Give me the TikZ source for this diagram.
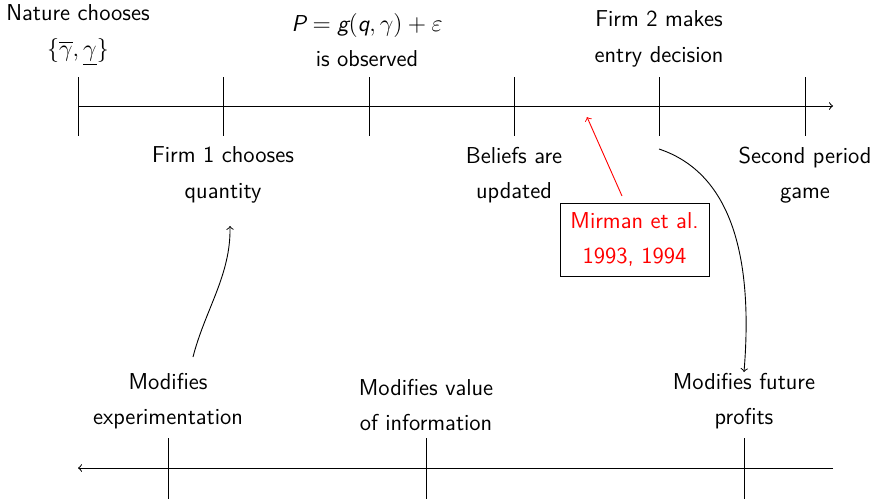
\documentclass[tikz,border=0pt]{standalone}
\usepackage{amsmath}
\newcommand\sfit[1]{\text{\sffamily\itshape #1}}
\begin{document}
\begin{tikzpicture}[x=0.5pt,y=-0.5pt,
  lbl/.style={font=\sffamily\fontsize{11.5}{17.8}\selectfont, align=center, inner sep=0pt},
  axis/.style={line width=0.5pt},
  tick/.style={line width=0.45pt},
  conn/.style={line width=0.45pt, ->},
  refbox/.style={draw, line width=0.5pt, text=red, font=\sffamily\fontsize{11.5}{17.8}\selectfont, align=center, minimum width=74.5pt, minimum height=36.5pt, inner sep=0pt}]
\useasboundingbox (0,0) rectangle (873,499);

% top axis
\coordinate (ta0) at (78,106);
\coordinate (ta1) at (833,106);
\draw[axis,->] (ta0) -- (ta1);
\foreach \n/\x in {t1/78,t2/223,t3/369,t4/514,t5/659,t6/805}{
  \coordinate (\n a) at (\x,77);
  \coordinate (\n b) at (\x,136);
  \draw[tick] (\n a) -- (\n b);
}

% top labels
\node[lbl] (nat) at (78,35) {Nature chooses\\$\{\overline{\gamma},\underline{\gamma}\}$};
\node[lbl] (obs) at (367,40) {$\sfit{P}=\sfit{g}(\sfit{q},\gamma)+\varepsilon$\\is observed};
\node[lbl] (f2) at (659,39) {Firm 2 makes\\entry decision};
\node[lbl] (f1) at (223,175) {Firm 1 chooses\\quantity};
\node[lbl] (bel) at (514,175) {Beliefs are\\updated};
\node[lbl] (sec) at (805,175) {Second period\\game};

% Mirman box
\node[refbox] (mir) at (634.5,239.5) {Mirman et al.\\1993, 1994};
\coordinate (mirtip) at (587,117);
\coordinate (mirstart) at (622,196);
\draw[red,conn] (mirstart) -- (mirtip);

% bottom axis
\coordinate (ba0) at (833,468);
\coordinate (ba1) at (78,468);
\draw[axis,->] (ba0) -- (ba1);
\foreach \n/\x in {b1/168,b2/426,b3/744}{
  \coordinate (\n a) at (\x,438);
  \coordinate (\n b) at (\x,499);
  \draw[tick] (\n a) -- (\n b);
}

% bottom labels
\node[lbl] (mexp) at (168,401) {Modifies\\experimentation};
\node[lbl] (minf) at (426,405) {Modifies value\\of information};
\node[lbl] (mfp) at (744,401) {Modifies future\\profits};

% connectors
\coordinate (expstart) at (193,357);
\coordinate (f1end) at (230,226);
\draw[conn] (expstart) .. controls (205,310) and (231,275) .. (f1end);
\coordinate (f2start) at (659,149);
\coordinate (mfpend) at (744,372);
\draw[conn] (f2start) .. controls (728,172) and (754,250) .. (mfpend);
\end{tikzpicture}
\end{document}
